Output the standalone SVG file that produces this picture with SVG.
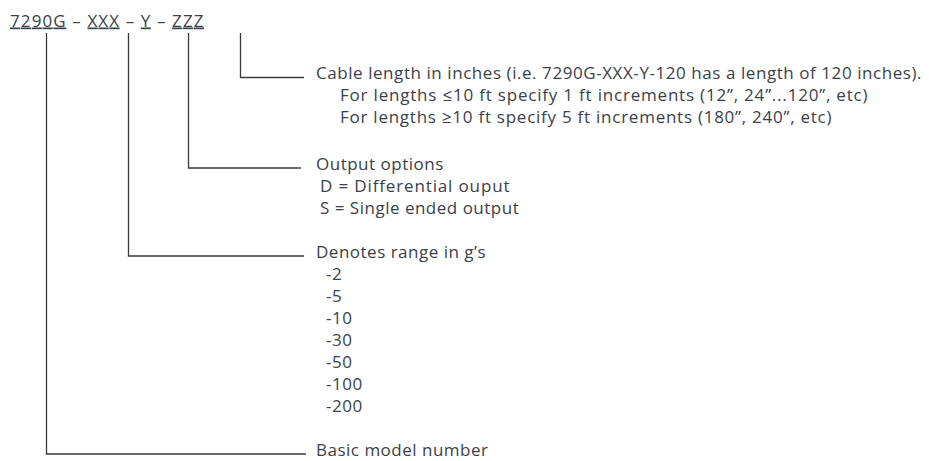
<svg xmlns="http://www.w3.org/2000/svg" width="929" height="461" viewBox="0 0 929 461">
<style>
.t{font-family:"Open Sans","Liberation Sans",sans-serif;font-size:17px;letter-spacing:0.5px;fill:#3b4149}
.c{fill:none;stroke:#3a3a3a;stroke-width:1.3}
</style>
<rect width="929" height="461" fill="#fff"/>
<g id="model-code">
<text class="t" x="10" y="26.5" textLength="194" lengthAdjust="spacing"><tspan text-decoration="underline">7290G</tspan> – <tspan text-decoration="underline">XXX</tspan> – <tspan text-decoration="underline">Y</tspan> – <tspan text-decoration="underline">ZZZ</tspan></text>
</g>
<g id="connectors">
<path class="c" d="M46.5,33V454H306"/>
<path class="c" d="M128.5,33V256H304"/>
<path class="c" d="M188.5,33V168H301"/>
<path class="c" d="M240.5,33V77.5H304"/>
</g>
<g id="cable-length">
<text class="t" x="316" y="79" textLength="606" lengthAdjust="spacing">Cable length in inches (i.e. 7290G-XXX-Y-120 has a length of 120 inches).</text>
<text class="t" x="340" y="101" textLength="528" lengthAdjust="spacing">For lengths ≤10 ft specify 1 ft increments (12”, 24”...120”, etc)</text>
<text class="t" x="340" y="123" textLength="492" lengthAdjust="spacing">For lengths ≥10 ft specify 5 ft increments (180”, 240”, etc)</text>
</g>
<g id="output-options">
<text class="t" x="316" y="170">Output options</text>
<text class="t" x="320" y="192" textLength="190" lengthAdjust="spacing">D = Differential ouput</text>
<text class="t" x="320" y="214">S = Single ended output</text>
</g>
<g id="range">
<text class="t" x="316" y="258">Denotes range in g’s</text>
<text class="t" x="326" y="280">-2</text>
<text class="t" x="326" y="302">-5</text>
<text class="t" x="326" y="324">-10</text>
<text class="t" x="326" y="346">-30</text>
<text class="t" x="326" y="368">-50</text>
<text class="t" x="326" y="390">-100</text>
<text class="t" x="326" y="412">-200</text>
</g>
<g id="basic-model">
<text class="t" x="316" y="456">Basic model number</text>
</g>
</svg>
